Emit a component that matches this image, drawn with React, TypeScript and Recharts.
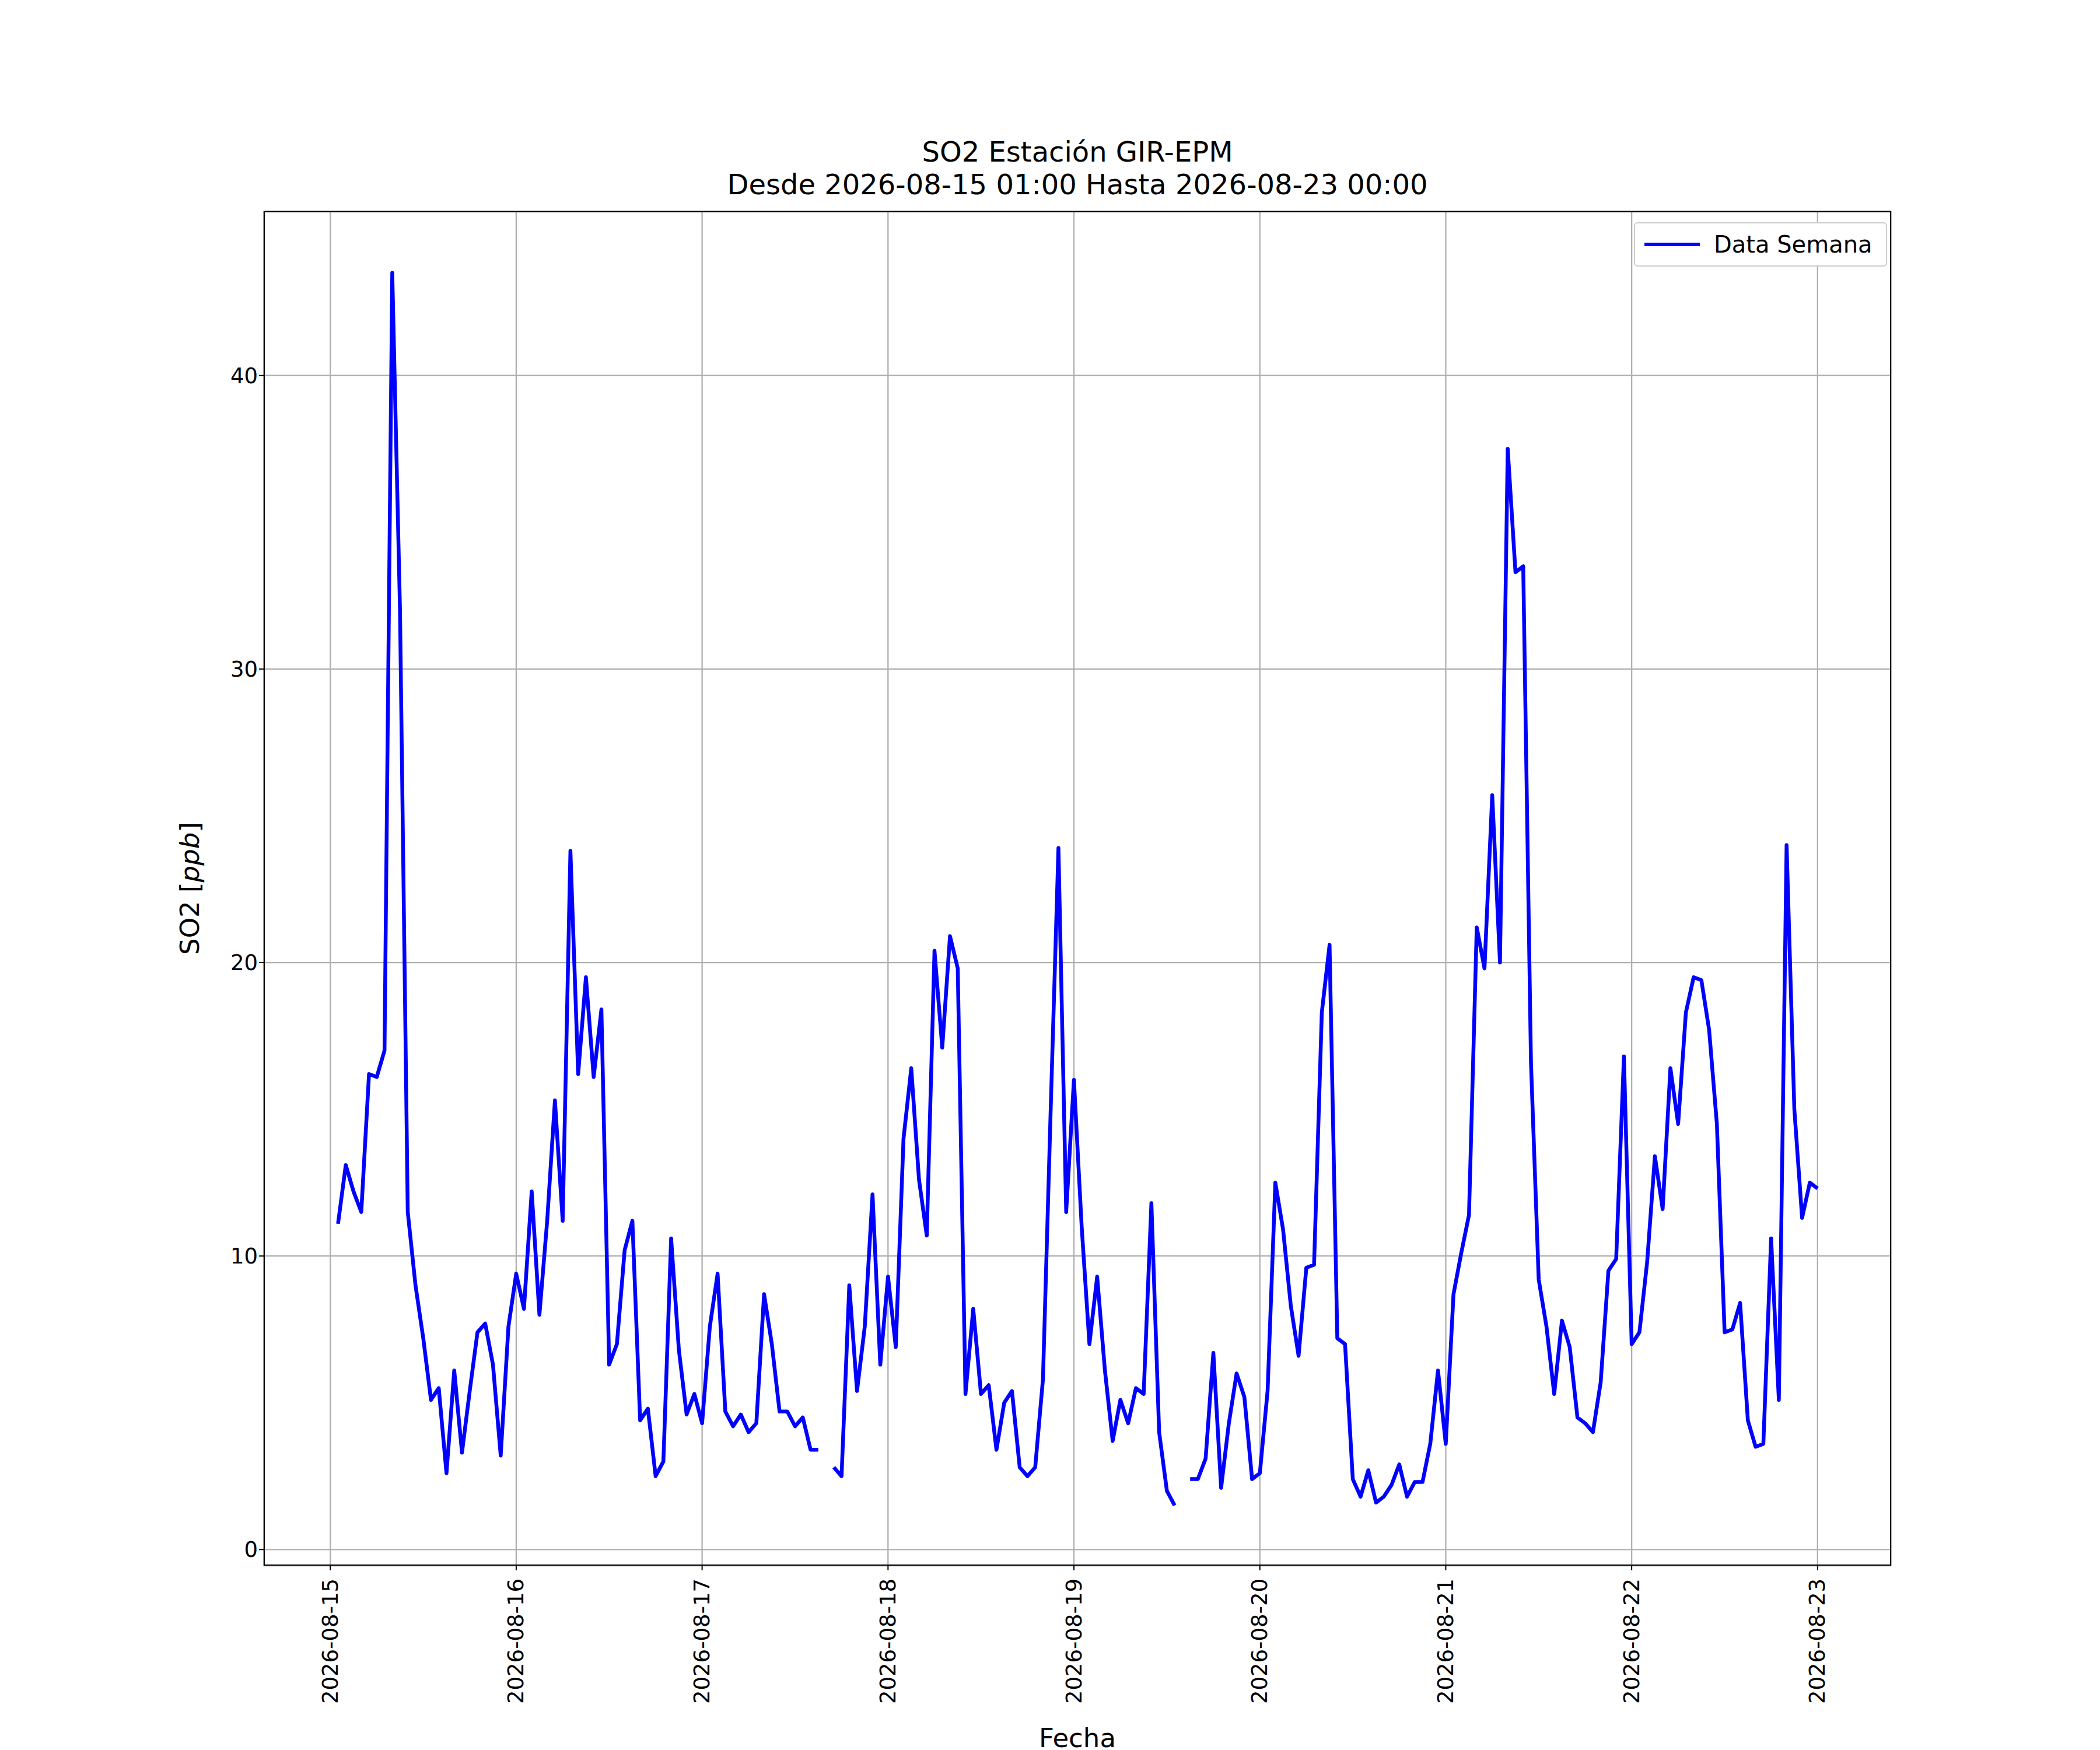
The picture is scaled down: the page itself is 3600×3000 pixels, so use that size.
import React from "react";
import { LineChart, Line, XAxis, YAxis, CartesianGrid } from "recharts";

const startLabels = ["2026-08-15","2026-08-16","2026-08-17","2026-08-18","2026-08-19","2026-08-20","2026-08-21","2026-08-22","2026-08-23"];
const xTicks = [0, 24, 48, 72, 96, 120, 144, 168, 192];
const yTicks = [0, 10, 20, 30, 40];

// Hourly values starting 2026-08-15 01:00 (null = missing)
const so2: (number | null)[] = [
  11.1,13.1,12.2,11.5,16.2,16.1,17.0,43.5,32,11.5,9.0,7.2,5.1,5.5,2.6,6.1,3.3,5.4,7.4,7.7,6.3,3.2,7.6,9.4,
  8.2,12.2,8.0,11.2,15.3,11.2,23.8,16.2,19.5,16.1,18.4,6.3,7.0,10.2,11.2,4.4,4.8,2.5,3.0,10.6,6.8,4.6,5.3,4.3,
  7.6,9.4,4.7,4.2,4.6,4.0,4.3,8.7,7.0,4.7,4.7,4.2,4.5,3.4,3.4,null,2.8,2.5,9.0,5.4,7.6,12.1,6.3,9.3,
  6.9,14.0,16.4,12.6,10.7,20.4,17.1,20.9,19.8,5.3,8.2,5.3,5.6,3.4,5.0,5.4,2.8,2.5,2.8,5.8,15,23.9,11.5,16.0,
  11.0,7.0,9.3,6.1,3.7,5.1,4.3,5.5,5.3,11.8,4.0,2.0,1.5,null,2.4,2.4,3.1,6.7,2.1,4.3,6.0,5.2,2.4,2.6,
  5.4,12.5,10.9,8.3,6.6,9.6,9.7,18.3,20.6,7.2,7.0,2.4,1.8,2.7,1.6,1.8,2.2,2.9,1.8,2.3,2.3,3.6,6.1,3.6,
  8.7,10.1,11.4,21.2,19.8,25.7,20.0,37.5,33.3,33.5,16.6,9.2,7.6,5.3,7.8,6.9,4.5,4.3,4.0,5.7,9.5,9.9,16.8,7.0,
  7.4,9.8,13.4,11.6,16.4,14.5,18.3,19.5,19.4,17.7,14.5,7.4,7.5,8.4,4.4,3.5,3.6,10.6,5.1,24.0,15.0,11.3,12.5,12.3,
];

const data = so2.map((v, i) => ({ h: i + 1, v }));

const FONT = "'DejaVu Sans', sans-serif";
const L = 452, R = 3242, T = 362, B = 2684;

const XTick = (props: any) => {
  const { x, y, payload } = props;
  const idx = xTicks.indexOf(payload.value);
  return (
    <text x={x} y={y + 12} transform={`rotate(-90 ${x} ${y + 12})`} textAnchor="end" dominantBaseline="central"
      fontSize={37} fontFamily={FONT} fill="#000">{startLabels[idx]}</text>
  );
};

export default function App() {
  return (
    <div style={{ position: "absolute", left: 0, top: 0, width: 3600, height: 3000, background: "#fff", fontFamily: FONT }}>
      <LineChart width={3600} height={3000} data={data}
        margin={{ top: T, right: 3600 - R, left: L - 100, bottom: 3000 - B - 300 }}>
        <CartesianGrid stroke="#b0b0b0" strokeWidth={2.3} horizontal vertical />
        <XAxis dataKey="h" type="number" domain={[-8.6, 201.5]} ticks={xTicks} interval={0}
          allowDataOverflow height={300} tickSize={8} tick={<XTick />} axisLine={false}
          tickLine={{ stroke: "#000", strokeWidth: 2 }} />
        <YAxis type="number" domain={[-0.55, 45.6]} ticks={yTicks} allowDataOverflow width={100}
          tickSize={8} axisLine={false} tickLine={{ stroke: "#000", strokeWidth: 2 }}
          tick={{ fontSize: 37, fontFamily: FONT, fill: "#000" }} />
        <Line dataKey="v" stroke="#0000ff" strokeWidth={6.5} dot={false} connectNulls={false}
          isAnimationActive={false} strokeLinejoin="round" />
      </LineChart>
      <div style={{ position: "absolute", left: L, top: T, width: R - L, height: B - T, border: "2px solid #000", boxSizing: "border-box", pointerEvents: "none" }} />
      <div style={{ position: "absolute", left: 0, width: 3694, top: 232, textAlign: "center", fontSize: 48, lineHeight: "56px" }}>
        SO2 Estación GIR-EPM<br />Desde 2026-08-15 01:00 Hasta 2026-08-23 00:00
      </div>
      <div style={{ position: "absolute", left: 0, width: 3694, top: 2955, textAlign: "center", fontSize: 45, lineHeight: "50px" }}>Fecha</div>
      <div style={{ position: "absolute", left: 325, top: 1523, transform: "translate(-50%,-50%) rotate(-90deg)", fontSize: 45, whiteSpace: "nowrap" }}>
        SO2 [<i>ppb</i>]
      </div>
      <div style={{ position: "absolute", left: 2801, top: 381, width: 434, height: 76, border: "2px solid #ccc", borderRadius: 6, boxSizing: "border-box", background: "#fff", display: "flex", alignItems: "center" }}>
        <div style={{ marginLeft: 16, width: 95, height: 6.5, background: "#0000ff" }} />
        <span style={{ marginLeft: 24, fontSize: 40 }}>Data Semana</span>
      </div>
    </div>
  );
}
